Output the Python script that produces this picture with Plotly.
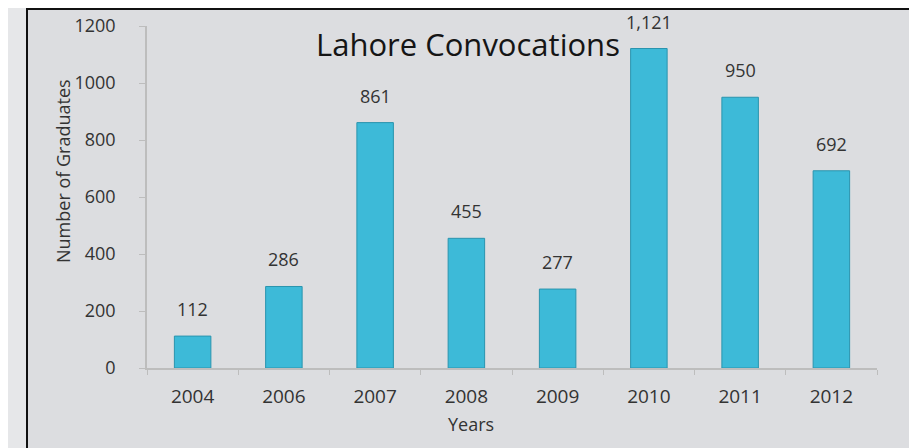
import plotly.graph_objects as go

years = ["2004", "2006", "2007", "2008", "2009", "2010", "2011", "2012"]
graduates = [112, 286, 861, 455, 277, 1121, 950, 692]
y_ticks = [0, 200, 400, 600, 800, 1000, 1200]

W, H = 917, 448
OX, OY = 8, 9  # page offset of the plot div in the browser


def px(x):
    return (x - OX) / W


def py(y):
    return 1 - (y - OY) / H


FONT = "Open Sans"

fig = go.Figure()
fig.add_trace(go.Bar(
    x=years, y=graduates,
    marker=dict(color="#3dbad8", line=dict(color="#2a94ae", width=1)),
    width=0.4,
    hoverinfo="x+y",
))

annotations = []
for i, v in enumerate(graduates):
    annotations.append(dict(
        x=i, y=v, xref="x", yref="y", text=f"{v:,}", showarrow=False,
        yanchor="bottom", yshift=13,
        font=dict(family=FONT, size=18, color="#333333"),
    ))
annotations += [
    dict(x=px(468), y=py(45), xref="paper", yref="paper", text="Lahore Convocations",
         showarrow=False, xanchor="center", yanchor="middle",
         font=dict(family=FONT, size=31, color="#151515")),
    dict(x=px(63), y=py(172), xref="paper", yref="paper", text="Number of Graduates",
         showarrow=False, textangle=-90, xanchor="center", yanchor="middle",
         font=dict(family=FONT, size=18, color="#333333")),
    dict(x=px(471), y=py(425), xref="paper", yref="paper", text="Years",
         showarrow=False, xanchor="center", yanchor="middle",
         font=dict(family=FONT, size=18, color="#333333")),
]

shapes = [
    dict(type="rect", xref="paper", yref="paper", x0=px(27), x1=px(913), y0=-0.2, y1=py(10),
         fillcolor="#dcdde0", line=dict(color="#111111", width=2), layer="below"),
]

fig.update_layout(
    template="none",
    width=W, height=H,
    autosize=False,
    margin=dict(l=0, r=0, t=0, b=0, pad=0),
    paper_bgcolor="#e6e7e9",
    plot_bgcolor="rgba(0,0,0,0)",
    showlegend=False,
    bargap=0.6,
    annotations=annotations,
    shapes=shapes,
    xaxis=dict(
        domain=[px(147), px(877)],
        type="category",
        automargin=False,
        range=[-0.5, len(years) - 0.5],
        showline=True, linecolor="#bdbdbd", linewidth=1.5,
        ticks="outside", ticklen=5, tickcolor="#bdbdbd", tickson="boundaries",
        tickangle=0,
        tickfont=dict(family=FONT, size=19, color="#333333"),
        ticklabelstandoff=10,
        showgrid=False, zeroline=False,
    ),
    yaxis=dict(
        domain=[py(369), py(27)],
        range=[0, 1200],
        automargin=False,
        tickvals=y_ticks,
        ticktext=[str(t) for t in y_ticks],
        showline=True, linecolor="#bdbdbd", linewidth=1.5,
        ticks="outside", ticklen=6, tickcolor="#bdbdbd",
        tickfont=dict(family=FONT, size=18, color="#333333"),
        ticklabelstandoff=20,
        showgrid=False, zeroline=False,
    ),
)

fig.write_html("out.html")
